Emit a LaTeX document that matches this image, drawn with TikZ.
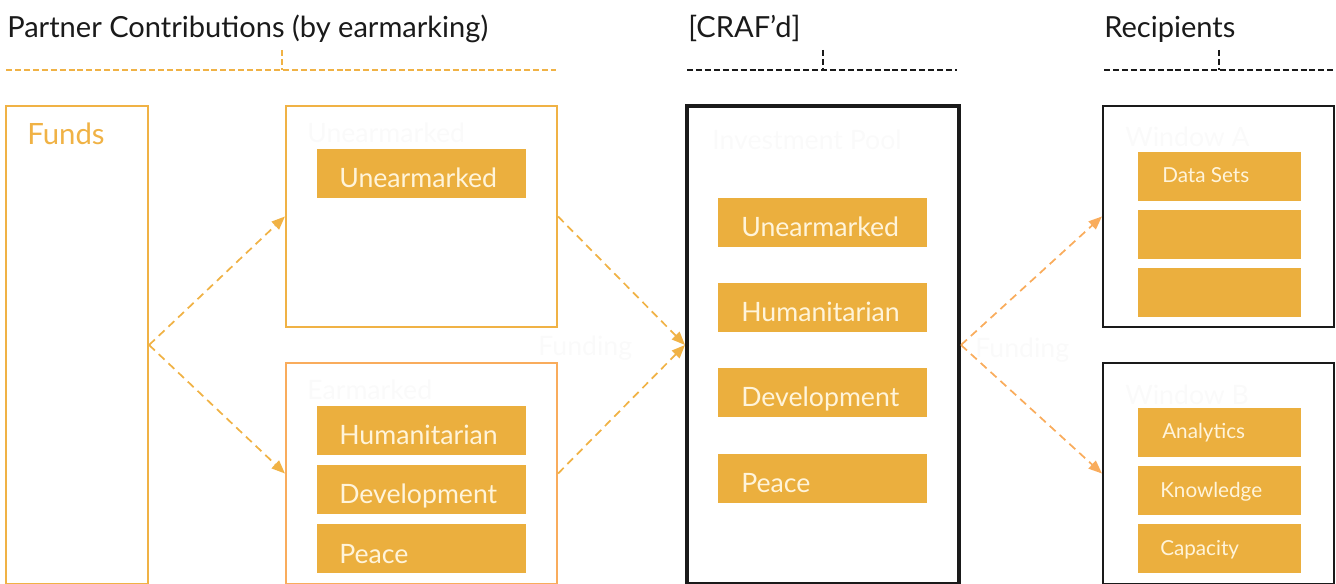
\documentclass[tikz,border=0pt]{standalone}
\usepackage{fontspec}
\setmainfont{Lato}
\usetikzlibrary{arrows.meta,fit}
\definecolor{bar}{HTML}{EBAF3E}
\definecolor{ostroke}{HTML}{F0B245}
\definecolor{ostroke2}{HTML}{F9AC5C}
\definecolor{bartxt}{HTML}{FFF4DA}
\definecolor{ghost}{HTML}{FAFAFA}
\definecolor{ink}{HTML}{1A1A1A}
\tikzset{
  obox/.style={draw=ostroke, line width=1.6pt, inner sep=0pt},
  obox2/.style={draw=ostroke2, line width=1.6pt, inner sep=0pt},
  kbox/.style={draw=ink, line width=1.6pt, inner sep=0pt},
  kboxthick/.style={draw=ink, line width=3pt, inner sep=0pt},
  barbox/.style={fill=bar, inner sep=0pt},
  bigtxt/.style={anchor=base west, inner sep=0pt, text=bartxt, font=\fontsize{20}{22}\selectfont},
  smalltxt/.style={anchor=base west, inner sep=0pt, text=bartxt, font=\fontsize{15.5}{18}\selectfont},
  ghosttxt/.style={anchor=base west, inner sep=0pt, text=ghost, font=\fontsize{20}{22}\selectfont},
  title/.style={anchor=base west, inner sep=0pt, text=ink, font=\fontsize{21.8}{25}\selectfont},
  arr/.style={draw=ostroke, line width=1.3pt, dash pattern=on 6pt off 4pt, -{Triangle[length=10pt,width=8pt,fill=ostroke]}},
  arr2/.style={draw=ostroke2, line width=1.3pt, dash pattern=on 6pt off 4pt, -{Triangle[length=10pt,width=8pt,fill=ostroke2]}},
  hdash/.style={line width=1.3pt, dash pattern=on 4.5pt off 2.2pt},
}
\begin{document}
\begin{tikzpicture}[x=0.75pt,y=-0.75pt]
\useasboundingbox (0,0) rectangle (1336,584);
% titles
\node[title] (t1) at (7,38) {Partner Contributions (by earmarking)};
\node[title] (t2) at (688,38) {[CRAF’d]};
\node[title] (t3) at (1104,38) {Recipients};
% header rules
\coordinate (h1a) at (6,70); \coordinate (h1b) at (556,70); \coordinate (h1m) at (282,70); \coordinate (h1t) at (282,50);
\draw[hdash, draw=ostroke] (h1a) -- (h1b);
\draw[hdash, draw=ostroke] (h1t) -- (h1m);
\coordinate (h2a) at (687,70); \coordinate (h2b) at (957,70); \coordinate (h2m) at (823,70); \coordinate (h2t) at (823,50);
\draw[hdash, draw=ink] (h2a) -- (h2b);
\draw[hdash, draw=ink] (h2t) -- (h2m);
\coordinate (h3a) at (1104,70); \coordinate (h3b) at (1334,70); \coordinate (h3m) at (1219,70); \coordinate (h3t) at (1219,50);
\draw[hdash, draw=ink] (h3a) -- (h3b);
\draw[hdash, draw=ink] (h3t) -- (h3m);
% boxes
\node[obox, fit={(6,106)(148,584)}] (funds) {};
\node[anchor=base west, inner sep=0pt, text=ostroke, font=\fontsize{22}{25}\selectfont] (fundst) at (27,145) {Funds};
\node[obox, fit={(286,106)(557,327)}] (unear) {};
\node[obox2, fit={(286,363)(557,584)}] (ear) {};
\node[kboxthick, fit={(687,106)(959,584)}] (pool) {};
\node[kbox, fit={(1103,106)(1334,327)}] (wa) {};
\node[kbox, fit={(1103,363)(1334,584)}] (wb) {};
% ghost labels
\node[ghosttxt] (g1) at (307,143) {Unearmarked};
\node[ghosttxt] (g2) at (307,400) {Earmarked};
\node[ghosttxt] (g3) at (712,150) {Investment Pool};
\node[ghosttxt] (g4) at (1125,147) {Window A};
\node[ghosttxt] (g5) at (1125,405) {Window B};
\node[ghosttxt] (g6) at (538,356) {Funding};
\node[ghosttxt] (g7) at (975,358) {Funding};
% bars left column
\node[barbox, fit={(317,149)(526,198)}] (b1) {};
\node[bigtxt] (b1t) at (339,188) {Unearmarked};
\node[barbox, fit={(317,406)(526,455)}] (b2) {};
\node[bigtxt] (b2t) at (339,445) {Humanitarian};
\node[barbox, fit={(317,465)(526,514)}] (b3) {};
\node[bigtxt] (b3t) at (339,504) {Development};
\node[barbox, fit={(317,524)(526,573)}] (b4) {};
\node[bigtxt] (b4t) at (339,563) {Peace};
% bars center
\node[barbox, fit={(718,198)(927,247)}] (c1) {};
\node[bigtxt] (c1t) at (741,237) {Unearmarked};
\node[barbox, fit={(718,283)(927,332)}] (c2) {};
\node[bigtxt] (c2t) at (741,322) {Humanitarian};
\node[barbox, fit={(718,368)(927,417)}] (c3) {};
\node[bigtxt] (c3t) at (741,407) {Development};
\node[barbox, fit={(718,454)(927,503)}] (c4) {};
\node[bigtxt] (c4t) at (741,493) {Peace};
% bars right
\node[barbox, fit={(1138,152)(1301,201)}] (r1) {};
\node[smalltxt] (r1t) at (1162,183) {Data Sets};
\node[barbox, fit={(1138,210)(1301,259)}] (r2) {};
\node[barbox, fit={(1138,268)(1301,317)}] (r3) {};
\node[barbox, fit={(1138,408)(1301,457)}] (r4) {};
\node[smalltxt] (r4t) at (1162,439) {Analytics};
\node[barbox, fit={(1138,466)(1301,515)}] (r5) {};
\node[smalltxt] (r5t) at (1160,498) {Knowledge};
\node[barbox, fit={(1138,524)(1301,573)}] (r6) {};
\node[smalltxt] (r6t) at (1160,556) {Capacity};
% connectors
\draw[arr] (funds.east) -- (unear.west);
\draw[arr] (funds.east) -- (ear.west);
\draw[arr] (unear.east) -- (pool.west);
\draw[arr] (ear.east) -- (pool.west);
\draw[arr2] (pool.east) -- (wa.west);
\draw[arr2] (pool.east) -- (wb.west);
\end{tikzpicture}
\end{document}
